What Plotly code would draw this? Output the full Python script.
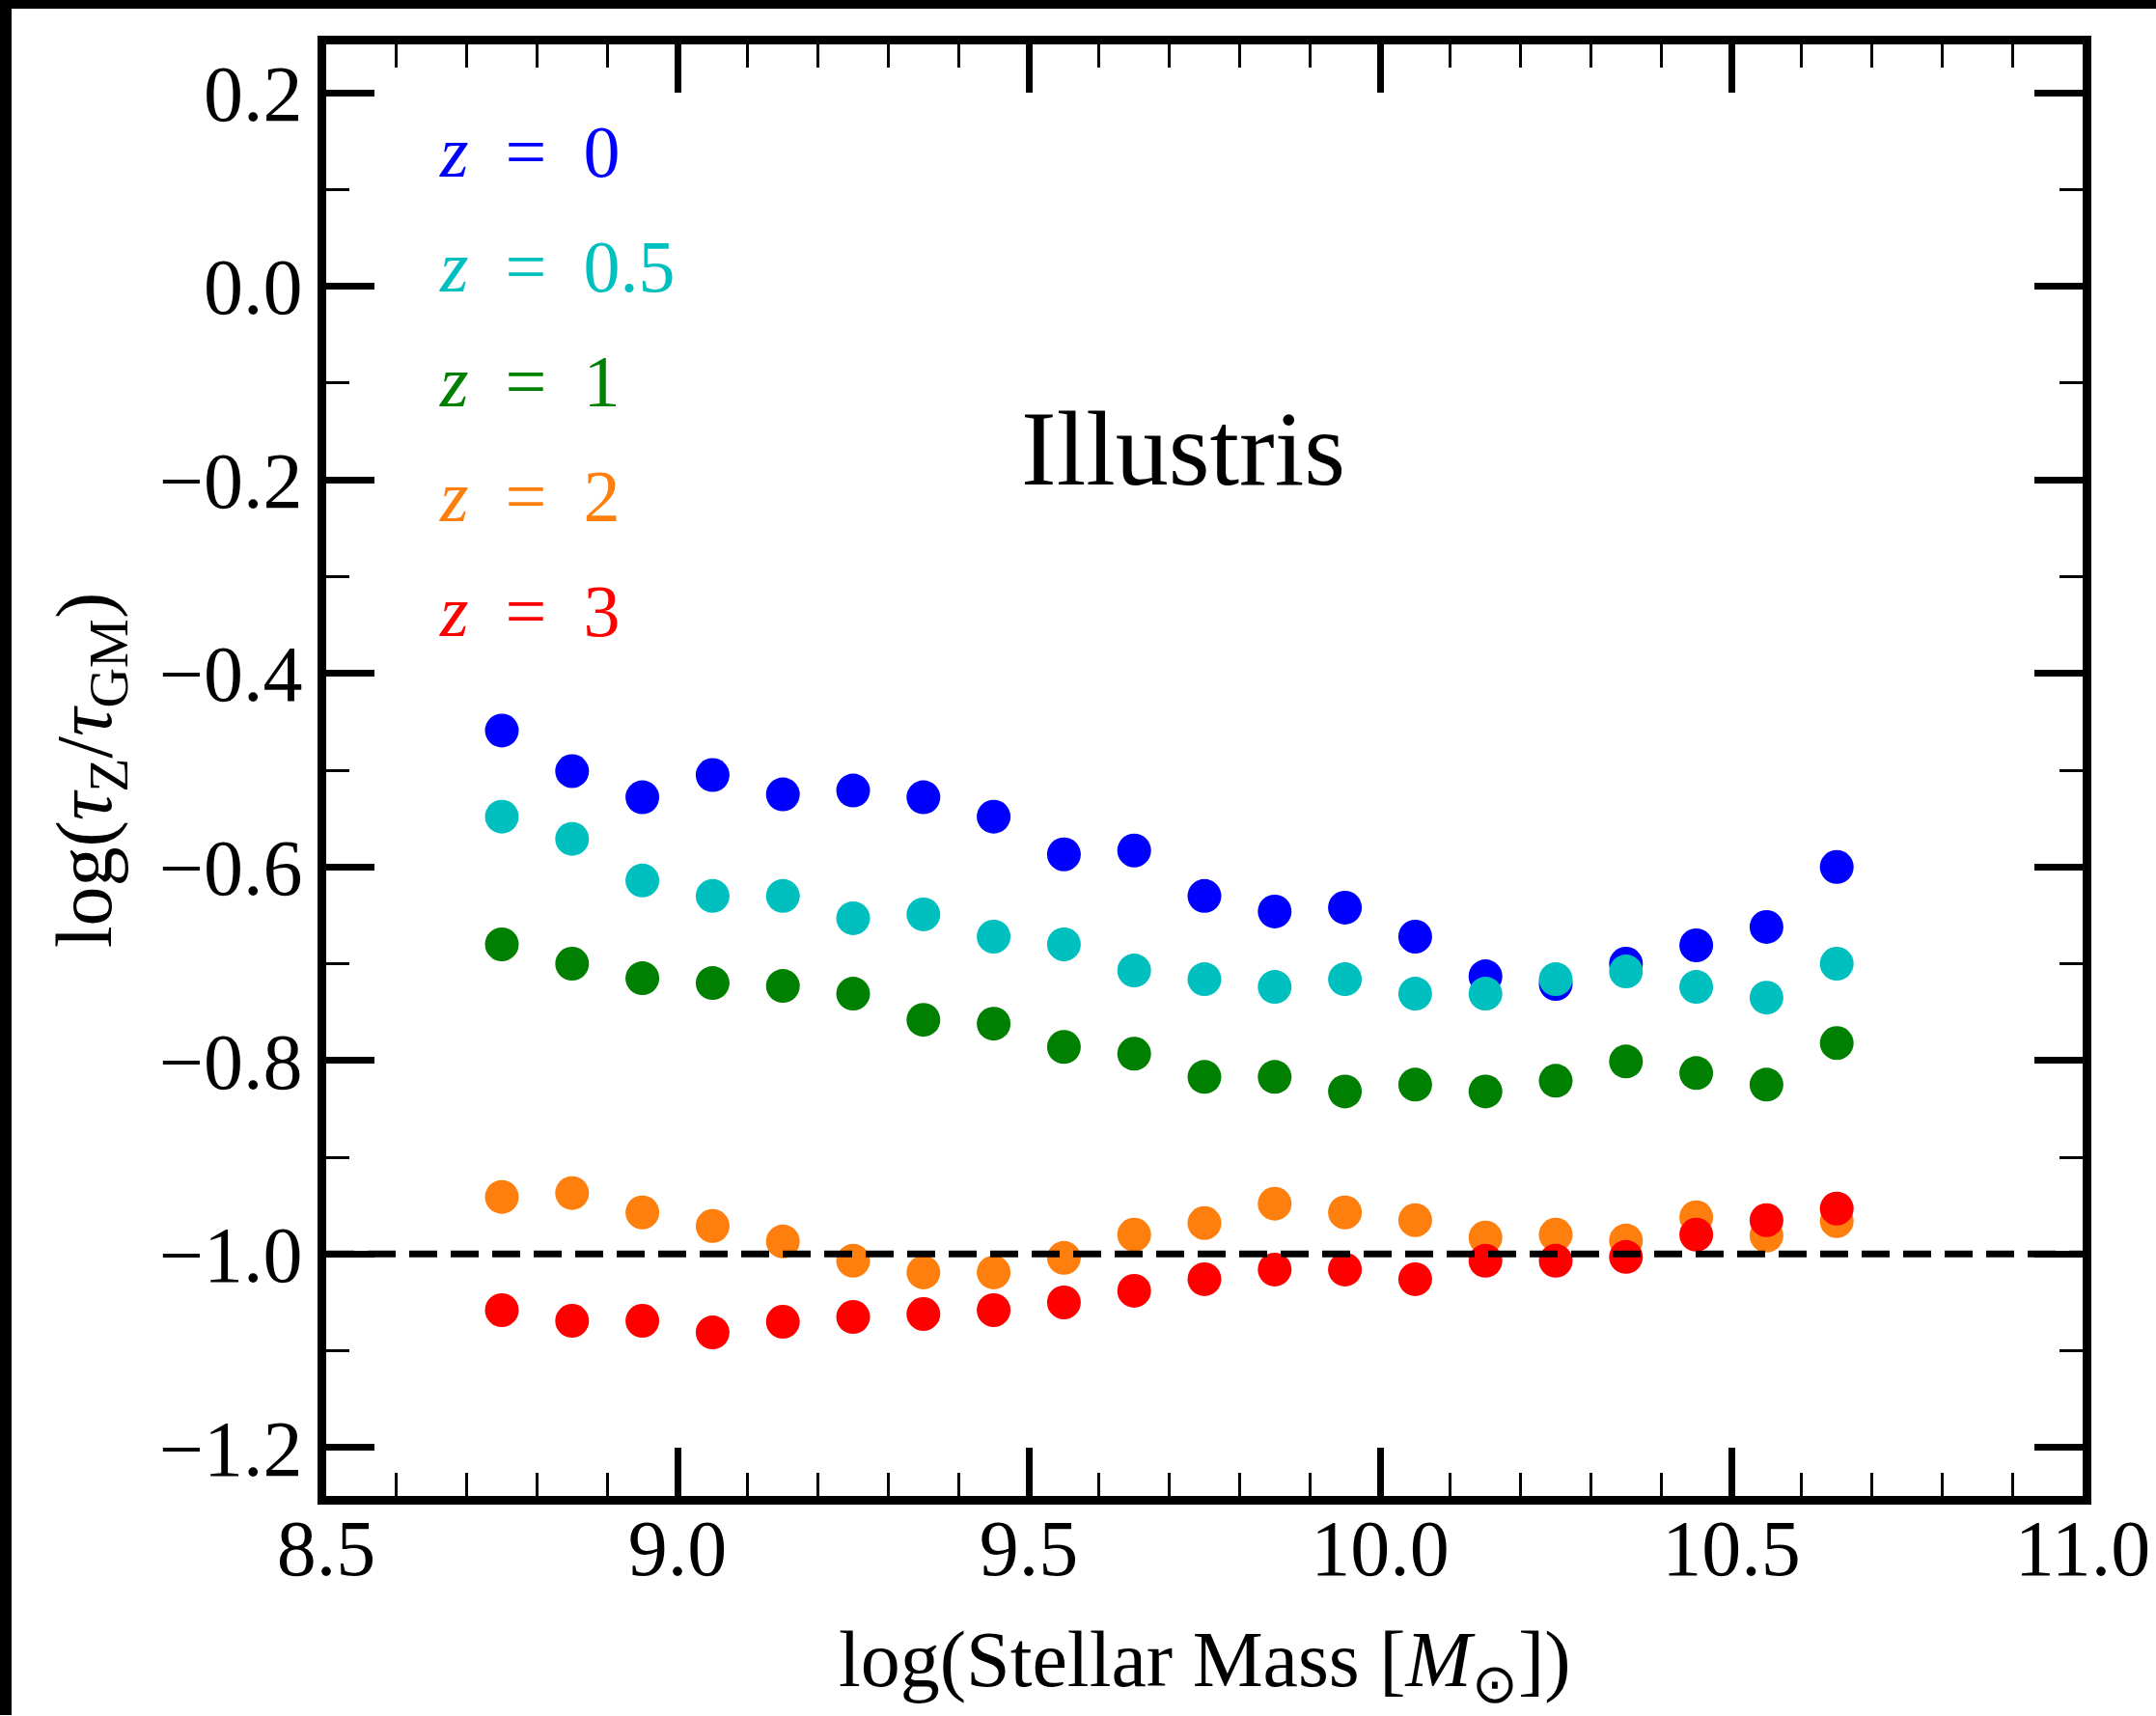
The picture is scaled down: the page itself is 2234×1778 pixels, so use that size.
import plotly.graph_objects as go

# ---------------- data ----------------
log_mass = [8.75, 8.85, 8.95, 9.05, 9.15, 9.25, 9.35, 9.45, 9.55, 9.65,
            9.75, 9.85, 9.95, 10.05, 10.15, 10.25, 10.35, 10.45, 10.55, 10.65]

ratio_z0 = [-0.459, -0.501, -0.528, -0.505, -0.525, -0.521, -0.528, -0.548, -0.587, -0.583,
            -0.630, -0.646, -0.642, -0.672, -0.713, -0.721, -0.700, -0.681, -0.662, -0.600]
ratio_z05 = [-0.548, -0.571, -0.614, -0.630, -0.630, -0.653, -0.649, -0.672, -0.680, -0.707,
             -0.716, -0.724, -0.716, -0.731, -0.731, -0.716, -0.708, -0.724, -0.735, -0.700]
ratio_z1 = [-0.680, -0.700, -0.715, -0.720, -0.723, -0.731, -0.758, -0.762, -0.786, -0.793,
            -0.817, -0.817, -0.832, -0.825, -0.832, -0.821, -0.801, -0.813, -0.825, -0.782]
ratio_z2 = [-0.941, -0.937, -0.957, -0.971, -0.987, -1.007, -1.019, -1.019, -1.004, -0.980,
            -0.968, -0.948, -0.957, -0.965, -0.983, -0.980, -0.986, -0.962, -0.981, -0.966]
ratio_z3 = [-1.058, -1.069, -1.069, -1.081, -1.070, -1.065, -1.062, -1.058, -1.050, -1.038,
            -1.026, -1.016, -1.016, -1.026, -1.007, -1.007, -1.003, -0.980, -0.965, -0.953]

series_names = ["z = 0", "z = 0.5", "z = 1", "z = 2", "z = 3"]
series_labels = ["0", "0.5", "1", "2", "3"]
series_values = [ratio_z0, ratio_z05, ratio_z1, ratio_z2, ratio_z3]
series_colors = ["#0000ff", "#00bfbf", "#008000", "#ff7f0e", "#ff0000"]

reference_level = -1.0
x_range = [8.5, 11.0]
y_range = [-1.25, 0.25]

x_title = "log(Stellar Mass [<i>M</i><sub>⊙</sub>])"
y_title = "log(<i>τ</i><sub>Z</sub>/<i>τ</i><sub>GM</sub>)"

# ---------------- layout geometry ----------------
W, H = 2234, 1778
L, R, T, B = 338, 2234 - 2158, 46, 1778 - 1550
PW, PH = W - L - R, H - T - B

FONT = "Liberation Serif"
FS = 82

fig = go.Figure()

for name, vals, col in zip(series_names, series_values, series_colors):
    fig.add_trace(go.Scatter(
        x=log_mass, y=vals, mode="markers", name=name,
        marker=dict(color=col, size=35, line=dict(width=0)),
        showlegend=False,
    ))

# dashed reference line
fig.add_shape(type="line", xref="paper", yref="y", x0=0, x1=1,
              y0=reference_level, y1=reference_level,
              line=dict(color="black", width=7, dash="29px,14px"), layer="above")


def px_x(p):
    return (p - L) / PW


def px_y(p):
    return (H - B - p) / PH


# colored legend text
legend_top_px = 157
legend_step_px = 119
for i, (lab, col) in enumerate(zip(series_labels, series_colors)):
    ypx = legend_top_px + i * legend_step_px
    fig.add_annotation(
        xref="paper", yref="paper",
        x=px_x(453), y=px_y(ypx),
        xanchor="left", yanchor="middle", showarrow=False,
        text=f"<i>z</i>\u2002=\u2002{lab}",
        font=dict(family=FONT, size=76, color=col),
    )

fig.add_annotation(
    xref="x", yref="y", x=9.72, y=-0.168, showarrow=False,
    xanchor="center", yanchor="middle",
    text="Illustris", font=dict(family=FONT, size=110, color="black"),
)

# x-axis title placed as an annotation (plotly constrains axis titles to the margin)
fig.add_annotation(
    xref="paper", yref="paper", x=0.5, y=px_y(1725), showarrow=False,
    xanchor="center", yanchor="middle",
    text=x_title, font=dict(family=FONT, size=FS, color="black"),
)

# black strips at the top and left edges of the picture
fig.add_shape(type="rect", xref="paper", yref="paper",
              x0=px_x(0), x1=px_x(W), y0=px_y(0), y1=px_y(9),
              fillcolor="black", line=dict(width=0), layer="above")
fig.add_shape(type="rect", xref="paper", yref="paper",
              x0=px_x(0), x1=px_x(12), y0=px_y(9), y1=px_y(H - 1),
              fillcolor="black", line=dict(width=0), layer="above")

axis_common = dict(
    showgrid=False, zeroline=False,
    showline=True, linewidth=9, linecolor="black",
    mirror="allticks",
    ticks="inside", ticklen=50, tickwidth=7, tickcolor="black",
    tickfont=dict(family=FONT, size=FS, color="black"),
    tickformat=".1f",
)

fig.update_xaxes(
    range=x_range, tick0=8.5, dtick=0.5,
    minor=dict(dtick=0.1, ticks="inside", ticklen=24, tickwidth=2.5, tickcolor="black"),
    ticklabelstandoff=-25,
    **axis_common,
)
fig.update_yaxes(
    range=y_range, tick0=0.0, dtick=0.2,
    minor=dict(dtick=0.1, ticks="inside", ticklen=24, tickwidth=2.5, tickcolor="black"),
    ticklabelstandoff=-1,
    title=dict(text=y_title,
               font=dict(family=FONT, size=FS, color="black"), standoff=26),
    **axis_common,
)

fig.update_layout(
    width=W, height=H,
    margin=dict(l=L, r=R, t=T, b=B, autoexpand=False),
    paper_bgcolor="white", plot_bgcolor="white",
    showlegend=False,
)

fig.write_html("out.html")
